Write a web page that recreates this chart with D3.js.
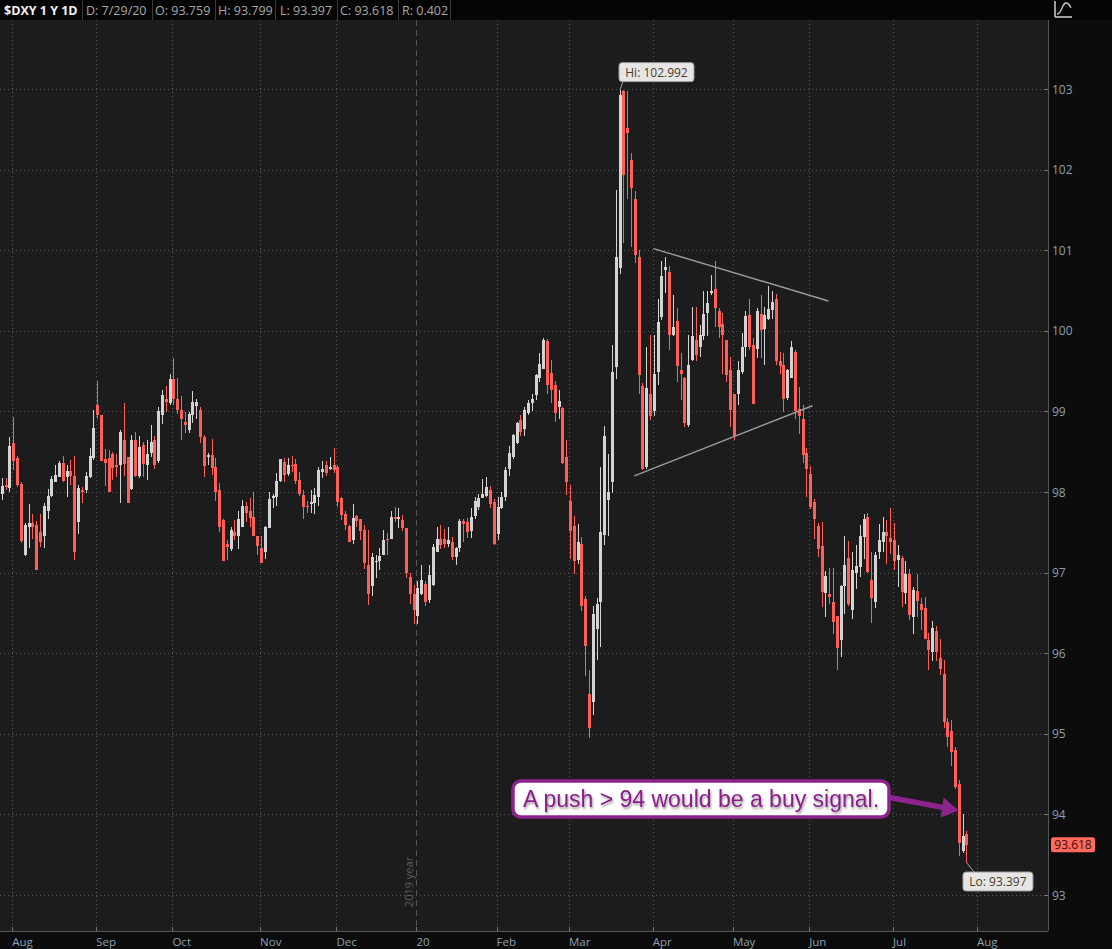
<!DOCTYPE html>
<html><head><meta charset="utf-8">
<script src="https://cdn.jsdelivr.net/npm/d3@7"></script>
<style>
html,body{margin:0;padding:0;background:#0c0c0c;}
svg{display:block;}
</style></head><body>
<svg id="c" width="1112" height="949"></svg>
<script>
// ---- data (trading-day index 0 = Aug 1 2019) ----
const firstIndex = -3;
const open = [
97.97,98.09,98.05,98.61,98.42,98.10,97.22,97.56,97.61,97.59,
97.50,97.46,97.77,97.95,98.13,98.19,98.36,98.18,98.26,98.20,
97.63,98.03,98.02,98.18,98.42,99.08,98.95,98.41,98.42,98.47,
98.33,98.33,98.64,98.43,98.04,98.64,98.20,98.58,98.34,98.48,
98.64,98.38,98.96,99.16,99.10,99.40,99.15,99.02,98.87,98.77,
98.96,99.07,99.02,98.68,98.44,98.46,98.31,98.02,97.65,97.36,
97.29,97.50,97.45,97.57,97.83,97.76,97.69,97.45,97.31,97.25,
97.55,97.93,97.94,98.14,98.37,98.22,98.34,98.35,98.15,97.96,
97.83,97.85,97.86,97.94,98.25,98.34,98.29,98.34,98.31,97.93,
97.73,97.58,97.40,97.70,97.67,97.53,97.09,96.83,97.13,97.15,
97.22,97.42,97.42,97.69,97.67,97.65,97.55,96.94,96.73,96.46,
96.74,96.86,96.66,96.85,97.26,97.42,97.42,97.36,97.38,97.19,
97.30,97.64,97.63,97.52,97.70,97.81,97.92,97.95,98.02,97.87,
97.48,97.80,97.94,98.28,98.43,98.61,98.89,98.78,98.98,99.11,
99.20,99.41,99.53,99.87,99.48,99.33,99.05,99.04,98.43,97.89,
97.58,97.16,97.36,96.67,95.50,95.40,96.30,96.64,97.47,97.90,
98.13,99.55,100.78,102.97,102.51,102.12,101.64,100.92,99.31,98.31,
99.22,99.00,99.49,100.17,100.76,100.73,99.95,100.12,99.51,99.41,
98.83,99.64,99.89,99.80,99.93,100.22,100.47,100.52,100.24,100.08,
99.89,99.51,99.22,99.22,99.49,99.80,100.20,99.82,99.78,100.21,
100.02,100.15,100.26,100.40,99.62,99.58,99.17,99.41,99.74,99.03,
98.91,98.49,98.22,97.88,97.58,97.33,96.75,96.74,96.63,96.46,
96.16,96.83,97.18,96.54,96.99,97.07,97.44,97.69,96.91,96.64,
97.25,97.38,97.50,97.43,97.40,97.16,97.18,96.75,96.98,96.45,
96.77,96.61,96.56,96.16,96.01,96.28,95.94,95.74,95.15,95.03,
94.80,94.38,93.54,93.759];
const high = [
98.17,98.17,98.68,98.93,98.45,98.13,97.61,97.85,97.73,97.64,
97.73,97.86,98.04,98.20,98.34,98.39,98.45,98.33,98.40,98.45,
98.09,98.06,98.25,98.55,99.02,99.38,98.96,98.53,98.52,98.50,
98.47,98.77,99.10,98.43,98.71,98.74,98.69,98.62,98.64,98.83,
98.69,99.06,99.27,99.31,99.46,99.66,99.41,99.19,98.99,98.99,
99.25,99.16,99.06,98.71,98.48,98.66,98.42,98.11,97.66,97.41,
97.57,97.65,97.77,97.90,97.88,97.92,98.00,97.45,97.45,97.58,
98.00,97.98,98.23,98.41,98.42,98.42,98.45,98.41,98.25,98.02,
97.89,98.02,98.05,98.31,98.39,98.39,98.44,98.54,98.34,97.94,
97.76,97.59,97.85,97.71,97.67,97.59,97.53,97.24,97.22,97.31,
97.53,97.49,97.77,97.82,97.80,97.72,97.55,96.99,96.85,96.89,
97.09,96.90,97.09,97.35,97.56,97.59,97.54,97.56,97.44,97.32,
97.66,97.67,97.68,97.80,97.94,97.98,98.16,98.18,98.07,97.91,
97.94,98.00,98.31,98.57,98.72,98.87,98.96,99.05,99.14,99.22,
99.47,99.72,99.91,99.90,99.64,99.38,99.27,99.05,98.65,98.09,
97.70,97.60,97.44,96.71,95.79,96.58,96.69,98.31,98.82,98.47,
99.82,101.75,102.99,102.99,102.97,102.20,101.73,101.00,99.35,99.80,
99.95,99.95,100.40,100.86,100.92,100.80,100.44,100.28,99.72,99.43,
99.95,100.30,100.30,100.07,100.49,100.49,100.69,100.87,100.28,100.22,
99.89,99.68,99.22,99.62,99.97,100.24,100.40,99.91,100.28,100.44,
100.30,100.55,100.49,100.46,99.74,99.72,99.53,99.87,99.76,99.30,
99.08,98.54,98.32,97.91,97.62,97.63,97.02,97.06,97.06,96.46,
96.85,97.45,97.39,97.25,97.34,97.59,97.73,97.74,97.25,97.25,
97.60,97.69,97.65,97.80,97.62,97.34,97.20,97.15,97.05,96.82,
96.98,96.69,96.70,96.25,96.40,96.34,96.18,95.92,95.19,95.17,
94.84,94.43,94.01,93.799];
const low = [
97.90,98.02,98.00,98.27,98.06,97.37,97.21,97.31,97.42,97.03,
97.32,97.31,97.66,97.94,98.12,98.18,98.12,97.94,98.09,97.16,
97.48,97.86,97.99,98.17,98.40,98.91,98.39,98.08,98.00,98.15,
98.19,97.86,98.20,97.86,98.02,98.18,98.17,98.19,98.15,98.44,
98.29,98.36,98.84,98.99,99.08,99.08,98.97,98.64,98.73,98.73,
98.85,98.90,98.61,98.19,98.33,98.21,97.89,97.50,97.14,97.16,
97.27,97.40,97.29,97.57,97.63,97.57,97.45,97.22,97.12,97.17,
97.55,97.80,97.83,98.13,98.13,98.20,98.25,98.10,97.95,97.67,
97.74,97.74,97.73,97.83,98.17,98.20,98.27,98.23,97.82,97.65,
97.53,97.38,97.35,97.56,97.40,97.04,96.60,96.71,96.93,97.03,
97.22,97.22,97.42,97.63,97.55,97.51,96.93,96.61,96.36,96.36,
96.72,96.59,96.62,96.83,97.25,97.29,97.31,97.32,97.16,97.09,
97.26,97.38,97.43,97.43,97.67,97.78,97.92,97.94,97.80,97.34,
97.41,97.79,97.89,98.20,98.41,98.60,98.70,98.70,98.96,99.00,
99.14,99.37,99.52,99.22,99.11,98.87,98.91,98.35,97.96,97.17,
96.98,97.11,96.52,95.72,94.95,95.23,95.92,96.08,97.34,97.45,
97.99,99.40,100.70,101.09,101.64,101.04,100.84,99.22,98.27,98.29,
98.89,98.94,99.33,100.13,100.47,99.76,99.93,99.37,99.14,98.81,
98.81,99.62,99.62,99.68,99.89,99.93,100.45,100.05,99.91,99.47,
99.37,98.81,98.65,99.08,99.47,99.68,99.76,99.09,99.66,99.66,
99.58,100.13,100.15,99.58,99.47,98.99,99.14,99.41,98.90,98.72,
98.36,97.94,97.79,97.42,97.19,96.57,96.45,96.61,96.24,95.79,
95.95,96.49,96.59,96.43,96.80,96.95,97.17,97.00,96.38,96.56,
97.17,97.26,97.11,97.23,97.03,96.82,96.57,96.61,96.41,96.24,
96.45,96.29,96.18,95.79,95.90,95.90,95.73,95.07,94.84,94.60,
94.32,93.48,93.52,93.397];
const close = [
98.07,98.06,98.57,98.38,98.09,97.39,97.59,97.62,97.57,97.03,
97.38,97.83,97.95,98.16,98.21,98.36,98.14,98.26,98.20,97.26,
98.05,98.00,98.20,98.45,98.80,98.95,98.39,98.36,98.00,98.30,
98.31,98.74,98.35,97.86,98.64,98.20,98.56,98.35,98.47,98.62,
98.33,99.00,99.20,99.12,99.40,99.16,99.02,98.90,98.83,98.97,
99.12,99.12,98.68,98.32,98.46,98.30,98.00,97.56,97.14,97.32,
97.53,97.45,97.67,97.83,97.74,97.68,97.45,97.33,97.12,97.56,
97.91,97.95,98.14,98.41,98.21,98.34,98.32,98.14,97.98,97.82,
97.82,97.88,97.96,98.27,98.29,98.24,98.31,98.27,97.88,97.72,
97.59,97.38,97.68,97.64,97.52,97.12,96.73,97.19,97.15,97.20,
97.40,97.40,97.69,97.67,97.69,97.55,97.00,96.73,96.53,96.81,
96.91,96.63,96.97,97.32,97.42,97.34,97.36,97.40,97.19,97.30,
97.64,97.60,97.50,97.69,97.89,97.93,97.97,98.06,97.85,97.36,
97.82,97.94,98.27,98.49,98.71,98.86,98.75,99.02,99.11,99.16,
99.45,99.59,99.89,99.33,99.27,98.98,99.13,98.36,98.13,97.51,
97.14,97.38,96.59,96.09,95.07,96.49,96.61,97.50,98.69,98.00,
99.49,100.92,102.93,101.93,102.46,101.77,100.94,99.45,98.29,99.29,
98.94,99.47,100.11,100.68,100.79,99.95,100.05,99.56,99.47,98.85,
99.58,99.94,99.70,99.95,100.21,100.35,100.49,100.28,100.05,99.95,
99.45,99.02,98.69,99.51,99.80,100.18,99.80,99.09,100.24,100.01,
100.20,100.27,100.36,99.62,99.56,99.16,99.51,99.80,99.00,98.94,
98.46,98.29,97.82,97.67,97.29,96.76,96.96,96.70,96.39,96.06,
96.83,97.09,96.61,97.03,97.08,97.45,97.66,97.01,96.68,97.22,
97.40,97.50,97.45,97.38,97.15,97.22,96.76,96.98,96.47,96.78,
96.65,96.53,96.18,96.04,96.31,96.01,95.81,95.15,94.96,94.78,
94.34,93.65,93.73,93.618];

const monthLabels = ["Aug","Sep","Oct","Nov","Dec","20","Feb","Mar","Apr","May","Jun","Jul","Aug"];
const monthStartIdx = [0,22,42,65,85,106,127,146,168,189,209,231,253];
const yearIdx = 106;
const yTicks = [93,94,95,96,97,98,99,100,101,102,103];
const headerCells = ["$DXY 1 Y 1D","D: 7/29/20","O: 93.759","H: 93.799","L: 93.397","C: 93.618","R: 0.402"];
const lastPrice = 93.618;
const hiIdx = 159, hiVal = 102.992;
const loIdx = 250, loVal = 93.397;
const trendUpper = [[167.9,101.02],[213.8,100.37]];
const trendLower = [[162.9,98.20],[209.6,99.07]];
const calloutText = "A push > 94 would be a buy signal.";
const calloutTarget = [249, 94.0];

// ---- layout ----
const W = 1112, H = 949;
const plot = {l:0, r:1048, t:20, b:931};
const x = d3.scaleLinear().domain([0,253]).range([13.3,977.9]);
const y = d3.scaleLinear().domain([93,103]).range([895,89]);
const UP = "#d4d4d4", DN = "#ff5f57";
const FONT = "'Open Sans', 'DejaVu Sans', sans-serif";

const svg = d3.select("#c");
const defs = svg.append("defs");
const f = defs.append("filter").attr("id","ts").attr("x","-10%").attr("y","-30%").attr("width","120%").attr("height","160%");
f.append("feDropShadow").attr("dx",1).attr("dy",2).attr("stdDeviation",1.2).attr("flood-color","#000").attr("flood-opacity",0.4);
defs.append("clipPath").attr("id","pc").append("rect")
  .attr("x",plot.l).attr("y",plot.t).attr("width",plot.r-plot.l).attr("height",plot.b-plot.t);

svg.append("rect").attr("width",W).attr("height",H).attr("fill","#0c0c0c");
svg.append("rect").attr("x",plot.l).attr("y",plot.t).attr("width",plot.r-plot.l).attr("height",plot.b-plot.t).attr("fill","#1c1c1c");

// header
svg.append("rect").attr("x",0).attr("y",0).attr("width",W).attr("height",plot.t).attr("fill","#050505");
const hx = [4,86,155,218,280,340,402];
const hsep = [82,152,215,275,337,398,450];
headerCells.forEach((t,k)=>{
  svg.append("text").attr("x",hx[k]).attr("y",14.5)
    .attr("font-family",FONT).attr("font-size",12.5)
    .attr("font-weight",k===0?700:400)
    .attr("fill",k===0?"#f2f2f2":"#a8a8a8").text(t);
  svg.append("line").attr("x1",hsep[k]+0.5).attr("x2",hsep[k]+0.5).attr("y1",0).attr("y2",plot.t)
    .attr("stroke","#3a3a3a");
});
// top-right icon
const ic = svg.append("g").attr("stroke","#cfcfcf").attr("fill","none").attr("stroke-width",1.5);
ic.append("path").attr("d","M1055,1 V17 M1055,17 H1072");
ic.append("path").attr("d","M1057,14 C1062,14 1062,3 1066,3 C1069,3 1070,6 1071,8").attr("stroke-width",1.3);

const pg = svg.append("g").attr("clip-path","url(#pc)");
// gridlines
pg.append("g").selectAll("line").data(yTicks).join("line")
  .attr("x1",plot.l).attr("x2",plot.r)
  .attr("y1",d=>Math.round(y(d))+0.5).attr("y2",d=>Math.round(y(d))+0.5)
  .attr("stroke","#5a5a5a").attr("stroke-dasharray","1,3");
pg.append("g").selectAll("line").data(monthStartIdx.filter(d=>d!==yearIdx)).join("line")
  .attr("x1",d=>Math.round(x(d)-1)+0.5).attr("x2",d=>Math.round(x(d)-1)+0.5)
  .attr("y1",plot.t).attr("y2",plot.b)
  .attr("stroke","#5a5a5a").attr("stroke-dasharray","1,3");
// year line
const yx = Math.round(x(yearIdx)-1)+0.5;
pg.append("line").attr("x1",yx).attr("x2",yx).attr("y1",plot.t).attr("y2",plot.b)
  .attr("stroke","#555").attr("stroke-dasharray","6,4");
pg.append("text").attr("transform",`translate(${yx-4},882) rotate(-90)`)
  .attr("text-anchor","middle").attr("font-family",FONT).attr("font-size",11)
  .attr("fill","#5e5e5e").text("2019 year");

// candles
const data = open.map((o,k)=>({i:k+firstIndex,o,h:high[k],l:low[k],c:close[k]}));
const cg = pg.append("g").attr("shape-rendering","crispEdges");
cg.selectAll("rect.w").data(data).join("rect").attr("class","w")
  .attr("x",d=>Math.round(x(d.i)))
  .attr("width",1)
  .attr("y",d=>y(d.h)).attr("height",d=>Math.max(1,y(d.l)-y(d.h)))
  .attr("fill",d=>d.c>=d.o?UP:DN);
cg.selectAll("rect.b").data(data).join("rect").attr("class","b")
  .attr("x",d=>Math.round(x(d.i))-1)
  .attr("width",3)
  .attr("y",d=>y(Math.max(d.o,d.c)))
  .attr("height",d=>Math.max(1.5,Math.abs(y(d.o)-y(d.c))))
  .attr("fill",d=>d.c>=d.o?UP:DN);

// trend lines
[trendUpper,trendLower].forEach(tl=>{
  pg.append("line").attr("x1",x(tl[0][0])).attr("y1",y(tl[0][1]))
    .attr("x2",x(tl[1][0])).attr("y2",y(tl[1][1]))
    .attr("stroke","#9c9c9c").attr("stroke-width",1.4);
});

// Hi / Lo labels
function tag(ax, ay, bx, by){
  pg.append("line").attr("x1",ax).attr("y1",ay).attr("x2",bx).attr("y2",by).attr("stroke","#a0a0a0");
}
const hX = x(hiIdx)+0.5, hY = y(hiVal);
tag(hX, hY, hX+3, hY-8);
const hb = pg.append("g");
hb.append("rect").attr("x",hX-1).attr("y",hY-27).attr("width",75).attr("height",19).attr("rx",3)
  .attr("fill","#e6e6e6").attr("stroke","#9a9a9a");
hb.append("text").attr("x",hX+36.5).attr("y",hY-13).attr("text-anchor","middle")
  .attr("font-family",FONT).attr("font-size",12).attr("fill","#4a3a22").text("Hi: "+hiVal.toFixed(3));
const lX = x(loIdx)+0.5, lY = y(loVal);
tag(lX, lY, lX+7, lY+9);
const lb = pg.append("g");
lb.append("rect").attr("x",lX-4).attr("y",lY+9).attr("width",70).attr("height",19).attr("rx",3)
  .attr("fill","#e6e6e6").attr("stroke","#9a9a9a");
lb.append("text").attr("x",lX+31).attr("y",lY+23).attr("text-anchor","middle")
  .attr("font-family",FONT).attr("font-size",12).attr("fill","#4a3a22").text("Lo: "+loVal.toFixed(3));

// callout
const PUR = "#8d248d";
const tx = x(calloutTarget[0])-4, ty = y(calloutTarget[1])-4;
const cb = {x:513, y:781, w:376, h:36};
svg.append("path").attr("d",`M${cb.x+cb.w-2},${cb.y+16} L${tx-16},${ty-3}`)
  .attr("stroke",PUR).attr("stroke-width",5.5).attr("fill","none");
svg.append("path").attr("d",`M${tx},${ty} L${tx-15},${ty-13} L${tx-18},${ty+7} Z`).attr("fill",PUR);
svg.append("rect").attr("x",cb.x).attr("y",cb.y).attr("width",cb.w).attr("height",cb.h).attr("rx",8)
  .attr("fill","#ffffff").attr("stroke",PUR).attr("stroke-width",3.5);
svg.append("text").attr("x",cb.x+cb.w/2).attr("y",cb.y+26).attr("text-anchor","middle")
  .attr("font-family","'Liberation Sans', Arial, sans-serif").attr("font-size",23)
  .attr("fill","#8b1f8b").attr("filter","url(#ts)").text(calloutText);

// right axis
svg.append("line").attr("x1",plot.r+0.5).attr("x2",plot.r+0.5).attr("y1",plot.t).attr("y2",plot.b).attr("stroke","#555");
const ra = svg.append("g");
ra.selectAll("line").data(yTicks).join("line")
  .attr("x1",plot.r-4).attr("x2",plot.r)
  .attr("y1",d=>Math.round(y(d))+0.5).attr("y2",d=>Math.round(y(d))+0.5).attr("stroke","#777");
ra.selectAll("text").data(yTicks).join("text")
  .attr("x",plot.r+4).attr("y",d=>y(d)+4.5)
  .attr("font-family",FONT).attr("font-size",12).attr("fill","#8aa0b4").text(d=>d);
// last price tag
const lpY = y(lastPrice);
svg.append("rect").attr("x",plot.r+3).attr("y",lpY-8).attr("width",44).attr("height",15).attr("rx",2.5).attr("fill","#ff6a5e");
svg.append("text").attr("x",plot.r+25).attr("y",lpY+4).attr("text-anchor","middle")
  .attr("font-family",FONT).attr("font-size",12).attr("fill","#3a0c08").text(lastPrice.toFixed(3));

// bottom axis
svg.append("line").attr("x1",plot.l).attr("x2",plot.r).attr("y1",plot.b+0.5).attr("y2",plot.b+0.5).attr("stroke","#555");
const ba = svg.append("g");
ba.selectAll("line").data(monthStartIdx).join("line")
  .attr("x1",d=>Math.round(x(d)-1)+0.5).attr("x2",d=>Math.round(x(d)-1)+0.5)
  .attr("y1",plot.b-4).attr("y2",plot.b).attr("stroke","#777");
ba.selectAll("text").data(monthStartIdx).join("text")
  .attr("x",d=>x(d)-1).attr("y",plot.b+15)
  .attr("font-family",FONT).attr("font-size",11.5).attr("fill","#8aa0b4")
  .text((d,k)=>monthLabels[k]);
</script>
</body></html>
